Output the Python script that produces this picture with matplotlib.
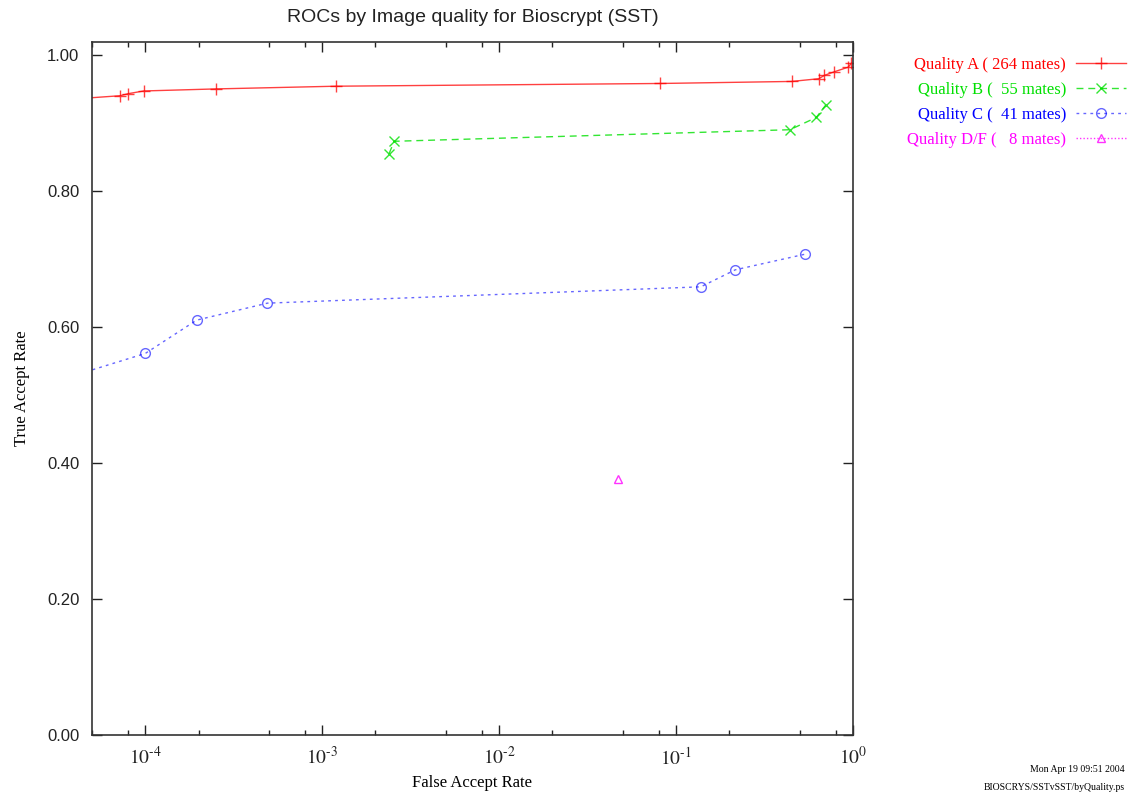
import matplotlib
matplotlib.use("Agg")
import matplotlib.pyplot as plt
from matplotlib.ticker import LogLocator, FixedLocator, FuncFormatter, NullFormatter
import math

plt.rcParams['mathtext.fontset'] = 'stix'

# ---- data ----
far_a = [3e-5, 7.2e-5, 8.0e-5, 9.8e-5, 2.5e-4, 1.2e-3, 0.081, 0.45, 0.64, 0.69, 0.78, 0.94, 0.98]
tar_a = [0.933, 0.940, 0.943, 0.947, 0.950, 0.954, 0.958, 0.961, 0.965, 0.970, 0.975, 0.982, 0.988]

far_b = [2.39e-3, 2.55e-3, 0.44, 0.62, 0.70]
tar_b = [0.855, 0.873, 0.890, 0.908, 0.926]

far_c = [3e-5, 1.0e-4, 1.95e-4, 4.9e-4, 0.138, 0.216, 0.536]
tar_c = [0.519, 0.561, 0.610, 0.635, 0.659, 0.684, 0.707]

far_d = [0.047]
tar_d = [0.376]

labels = ["Quality A ( 264 mates)", "Quality B (  55 mates)",
          "Quality C (  41 mates)", "Quality D/F (   8 mates)"]
yticks = [0.0, 0.2, 0.4, 0.6, 0.8, 1.0]
xticks = [1e-4, 1e-3, 1e-2, 1e-1, 1e0]

fig = plt.figure(figsize=(11.31, 7.99), dpi=100)
ax = fig.add_axes([92/1131, 64/799, (853-92)/1131, (735-42)/799])

ax.plot(far_a, tar_a, color='#ff0000', lw=1.0, alpha=0.75, marker='+', ms=8, mew=1.0,
        label=labels[0])
ax.plot(far_b, tar_b, color='#00e000', lw=1.0, alpha=0.8, ls=(0, (5, 3.5)), marker='x', ms=7,
        mew=1.0, label=labels[1])
ax.plot(far_c, tar_c, color='#0000ff', lw=1.0, alpha=0.6, ls=(0, (2, 3)), marker='o', ms=7,
        mfc='none', mew=1.0, label=labels[2])
ax.plot(far_d, tar_d, color='#ff00ff', lw=1.0, alpha=0.8, ls=(0, (1, 1.5)), marker='^', ms=6,
        mfc='none', mew=1.0, label=labels[3])

ax.set_xscale('log')
ax.set_xlim(5e-5, 1.0)
ax.set_ylim(0.0, 1.019)

ax.xaxis.set_major_locator(FixedLocator(xticks))
ax.xaxis.set_minor_locator(LogLocator(base=10, subs=(2.0, 5.0, 8.0)))
ax.xaxis.set_minor_formatter(NullFormatter())


def fmt_x(v, pos):
    e = int(round(math.log10(v)))
    return r'$10^{\text{%d}}$' % e


ax.xaxis.set_major_formatter(FuncFormatter(fmt_x))
ax.set_yticks(yticks)
ax.set_yticklabels(['%.2f' % v for v in yticks], family='Liberation Sans', fontsize=12)

ax.tick_params(which='both', direction='in', top=True, right=True, colors='#222222')
ax.tick_params(which='major', length=7.5, width=1.0)
ax.tick_params(which='minor', length=3.5, width=1.0)
ax.tick_params(axis='x', which='major', labelsize=14, pad=8)
ax.tick_params(axis='y', pad=9)
for s in ax.spines.values():
    s.set_color('#333333')
    s.set_linewidth(1.2)

ax.set_xlabel('False Accept Rate', family='Liberation Serif', fontsize=12, labelpad=5)
ax.set_ylabel('True Accept Rate', family='Liberation Serif', fontsize=12, labelpad=12)
fig.text(473/1131, 1 - 18/799, 'ROCs by Image quality for Bioscrypt (SST)',
         family='Liberation Sans', fontsize=14, ha='center', va='center', color='#222222')

leg = ax.legend(loc='upper right', bbox_to_anchor=(1126/1131, 1 - 57/799),
                bbox_transform=fig.transFigure, frameon=False, markerfirst=False,
                prop={'family': 'Liberation Serif', 'size': 12},
                handlelength=3.0, handletextpad=0.6, labelspacing=0.54, borderpad=0,
                borderaxespad=0)
for t, c in zip(leg.get_texts(), ['#ff0000', '#00e000', '#0000ff', '#ff00ff']):
    t.set_color(c)

fig.text(1125/1131, 1 - 770/799, 'Mon Apr 19 09:51 2004', family='Liberation Serif',
         fontsize=7, ha='right', va='center')
fig.text(1125/1131, 1 - 787/799, 'BIOSCRYS/SSTvSST/byQuality.ps', family='Liberation Serif',
         fontsize=7, ha='right', va='center')

fig.savefig('out.png', dpi=100)
